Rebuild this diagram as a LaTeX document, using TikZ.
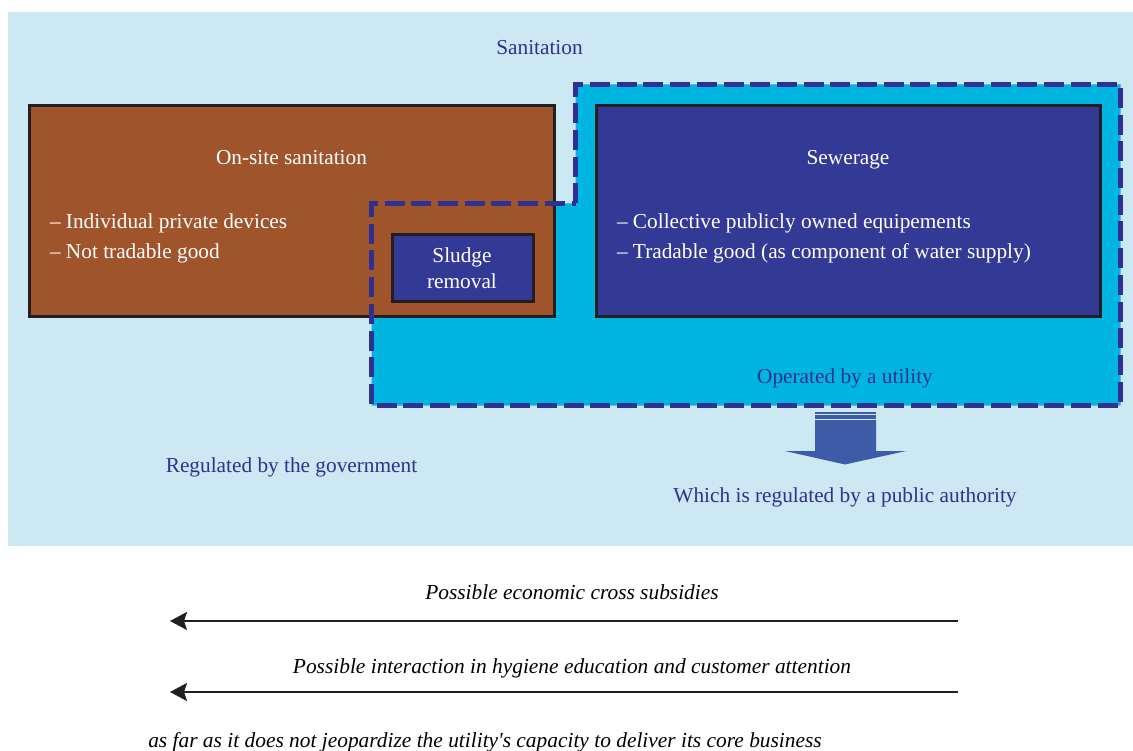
\documentclass[tikz,border=0pt]{standalone}
\usepackage{fontspec}
\setmainfont{Liberation Serif}[Ligatures=TeXOff]
\usetikzlibrary{arrows.meta}
\definecolor{bgblue}{HTML}{CBE8F3}
\definecolor{cyanfill}{HTML}{00B5DF}
\definecolor{brownfill}{HTML}{A0542C}
\definecolor{navyfill}{HTML}{333A96}
\definecolor{dashblue}{HTML}{2E3192}
\definecolor{txtblue}{HTML}{2E3192}
\definecolor{arrowblue}{HTML}{3D5BA6}
\definecolor{edgedark}{HTML}{231F20}
\tikzset{
  txt/.style={font=\fontsize{21.3}{26}\selectfont, inner sep=0pt, outer sep=0pt},
  bluetxt/.style={txt, text=txtblue},
  whitetxt/.style={txt, text=white},
  ittxt/.style={txt, text=black, font=\fontsize{21.4}{26}\selectfont\itshape},
  boxbase/.style={draw=edgedark, line width=3pt, inner sep=0pt, outer sep=0pt, anchor=north west},
  brownbox/.style={boxbase, fill=brownfill},
  navybox/.style={boxbase, fill=navyfill},
  utilityline/.style={draw=dashblue, line width=4.5pt, dash pattern=on 20pt off 6.7pt},
  crossarrow/.style={draw=edgedark, line width=2pt, -{Stealth[length=17pt,width=18pt,inset=3pt]}}
}
\begin{document}
\begin{tikzpicture}[x=1pt,y=-1pt]
\useasboundingbox (0,0) rectangle (1133,751);
% background
\fill[bgblue] (8,12) rectangle (1133,546);
% utility region fill
\fill[cyanfill] (575.5,84.5) -- (1120.5,84.5) -- (1120.5,405.5) -- (371.5,405.5) -- (371.5,203.5) -- (575.5,203.5) -- cycle;
% boxes
\node[brownbox, minimum width=524.5pt, minimum height=211pt] (onsite) at (29.5,105.5) {};
\node[navybox, minimum width=504pt, minimum height=211.5pt] (sewer) at (596.5,105.5) {};
% dashed utility outline
\draw[utilityline] (575.5,203.5) -- (575.5,84.5) -- (1120.5,84.5) -- (1120.5,405.5) -- (371.5,405.5) -- (371.5,203.5) -- cycle;
% sludge box
\node[navybox, minimum width=141pt, minimum height=67pt] (sludge) at (392.5,235) {};
% texts
\node[bluetxt, anchor=base] (sanit) at (539.5,55) {Sanitation};
\node[whitetxt, anchor=base] (onsitetitle) at (291.5,165) {On-site sanitation};
\node[whitetxt, anchor=base west] (onsite1) at (50,229) {– Individual private devices};
\node[whitetxt, anchor=base west] (onsite2) at (50,259) {– Not tradable good};
\node[whitetxt, anchor=base] (sewertitle) at (848,165) {Sewerage};
\node[whitetxt, anchor=base west] (sewer1) at (617,229) {– Collective publicly owned equipements};
\node[whitetxt, anchor=base west] (sewer2) at (617,259) {– Tradable good (as component of water supply)};
\node[whitetxt, anchor=base] (sludge1) at (462,263) {Sludge};
\node[whitetxt, anchor=base] (sludge2) at (462,289) {removal};
\node[bluetxt, anchor=base] (operated) at (845,384) {Operated by a utility};
\node[bluetxt, anchor=base] (govreg) at (291.5,472) {Regulated by the government};
\node[bluetxt, anchor=base] (pubreg) at (845,502) {Which is regulated by a public authority};
% block arrow
\fill[arrowblue] (815,412) rectangle (876,414);
\fill[arrowblue] (815,415) rectangle (876,419);
\fill[arrowblue] (815,420) -- (876,420) -- (876,451) -- (906,451) -- (845,464.5) -- (785,451) -- (815,451) -- cycle;
% bottom
\node[ittxt, anchor=base] (cross) at (572,599) {Possible economic cross subsidies};
\coordinate (c1s) at (958,621);
\coordinate (c1e) at (170,621);
\draw[crossarrow] (c1s) -- (c1e);
\node[ittxt, anchor=base] (inter) at (572,673) {Possible interaction in hygiene education and customer attention};
\coordinate (c2s) at (958,692);
\coordinate (c2e) at (170,692);
\draw[crossarrow] (c2s) -- (c2e);
\node[ittxt, anchor=base] (farasit) at (485,747) {as far as it does not jeopardize the utility's capacity to deliver its core business};
\end{tikzpicture}
\end{document}
